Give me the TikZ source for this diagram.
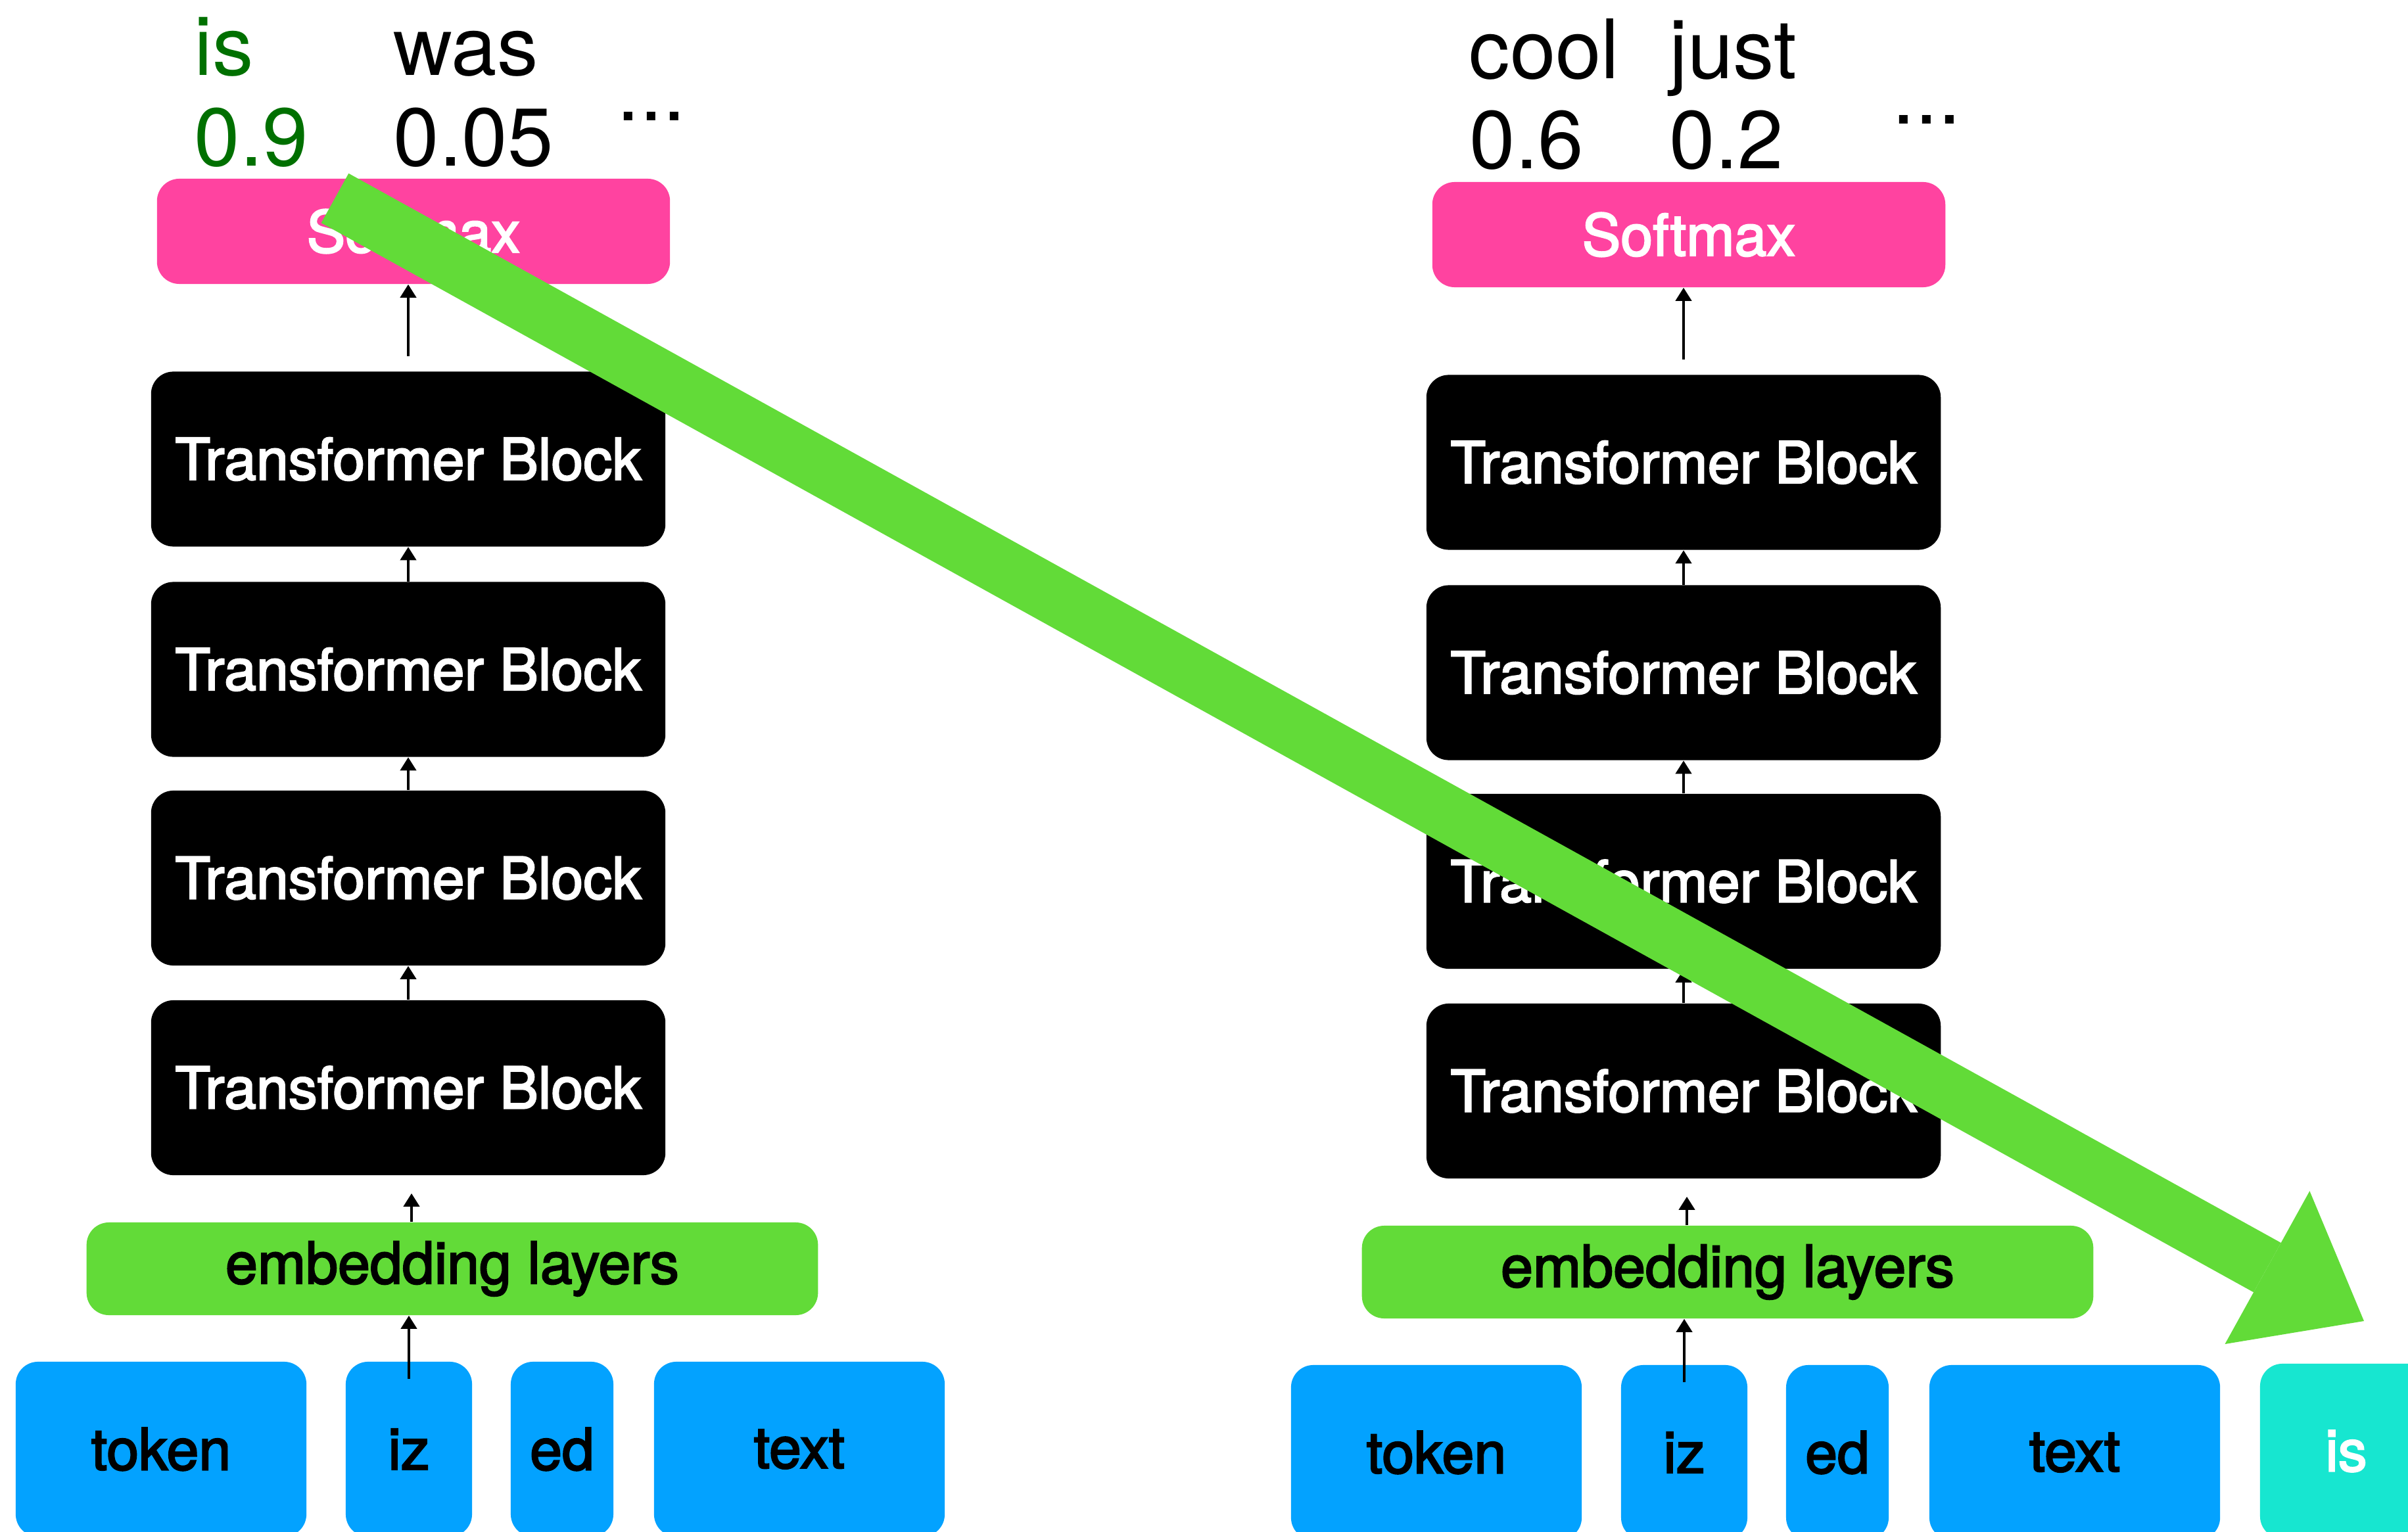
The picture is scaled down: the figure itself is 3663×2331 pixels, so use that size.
\documentclass[tikz,border=0pt]{standalone}
\usepackage{fontspec}
\setmainfont{TeX Gyre Heros}
\newfontfamily\boxfont{TeX Gyre Heros}[FakeBold=2.6]
\usetikzlibrary{arrows.meta}
\definecolor{smpink}{HTML}{FF43A0}
\definecolor{embgreen}{HTML}{62DB38}
\definecolor{tokblue}{HTML}{03A2FF}
\definecolor{newcyan}{HTML}{17E6D0}
\definecolor{topgreen}{HTML}{007000}
\begin{document}
\begin{tikzpicture}[x=0.01cm, y=-0.01cm,
  box/.style={rectangle, rounded corners=0.34cm, inner sep=0pt,
    font=\boxfont\fontsize{25}{30}\selectfont},
  softbox/.style={box, fill=smpink, text=white, minimum width=7.8cm, minimum height=1.6cm},
  tbbox/.style={box, fill=black, text=white, minimum width=7.82cm, minimum height=2.66cm},
  embbox/.style={box, fill=embgreen, text=black, minimum width=11.12cm, minimum height=1.41cm},
  tokbox/.style={box, fill=tokblue, text=black, minimum height=2.66cm},
  newtok/.style={box, fill=newcyan, text=white, minimum height=2.66cm, minimum width=2.62cm},
  prob/.style={anchor=base west, inner sep=0pt, font=\fontsize{35.5}{40}\selectfont},
  arr/.style={line width=0.04cm, -{Triangle[length=0.2cm, width=0.24cm]}},
  bigarrow/.style={line width=0.86cm, embgreen,
    -{Triangle[length=1.68cm, width=2.66cm, line width=0pt]}}]
\useasboundingbox (0,0) rectangle (3663,2331);
\clip (0,0) rectangle (3663,2331);

% two copies of the model stack, the second one step later
\foreach \c/\dx/\dy in {L/0/0, R/1940/5} {
  \node[softbox] (\c-sm) at (629+\dx, 352+\dy) {Softmax};
  \node[tbbox] (\c-tb1) at (621+\dx, 698.5+\dy) {Transformer Block};
  \node[tbbox] (\c-tb2) at (621+\dx, 1018.5+\dy) {Transformer Block};
  \node[tbbox] (\c-tb3) at (621+\dx, 1336+\dy) {Transformer Block};
  \node[tbbox] (\c-tb4) at (621+\dx, 1655+\dy) {Transformer Block};
  \node[embbox] (\c-emb) at (688+\dx, 1930.5+\dy) {embedding layers};
  \node[tokbox, minimum width=4.42cm] (\c-token) at (245+\dx, 2205+\dy) {token};
  \node[tokbox, minimum width=1.92cm] (\c-iz) at (622+\dx, 2205+\dy) {iz};
  \node[tokbox, minimum width=1.56cm] (\c-ed) at (855+\dx, 2205+\dy) {ed};
  \node[tokbox, minimum width=4.42cm] (\c-text) at (1216+\dx, 2205+\dy) {text};

  \draw[arr] ([yshift=-0.27cm]\c-iz.north) -- (\c-iz.north |- \c-emb.south);
  \draw[arr, shorten >=0.27cm] ([xshift=0.05cm]\c-tb4.south |- \c-emb.north)
    -- ([xshift=0.05cm]\c-tb4.south);
  \draw[arr] (\c-tb4.north) -- (\c-tb3.south);
  \draw[arr] (\c-tb3.north) -- (\c-tb2.south);
  \draw[arr] (\c-tb2.north) -- (\c-tb1.south);
  \draw[arr, shorten <=0.23cm] (\c-tb1.north) -- (\c-tb1.north |- \c-sm.south);
}

% the predicted token appended to the input
\node[newtok] (R-is) at (3569, 2208) {is};

% output probabilities
\node[prob, text=topgreen] (L-w1) at (295,115) {is};
\node[prob] (L-w2) at (598,115) {was};
\node[prob, text=topgreen] (L-p1) at (295,253) {0.9};
\node[prob] (L-p2) at (598,253) {0.05};
\node[prob] (L-dots) at (938,184) {...};

\node[prob] (R-w1) at (2234,120) {cool};
\node[prob] (R-w2) at (2539,120) {just};
\node[prob] (R-p1) at (2235,257) {0.6};
\node[prob] (R-p2) at (2539,257) {0.2};
\node[prob] (R-dots) at (2878,189) {...};

% the chosen word is fed back as the next input
\coordinate (gstart) at (509.5,301.5);
\coordinate (gend) at (3596,2010);
\draw[bigarrow] (gstart) -- (gend);
\end{tikzpicture}
\end{document}
